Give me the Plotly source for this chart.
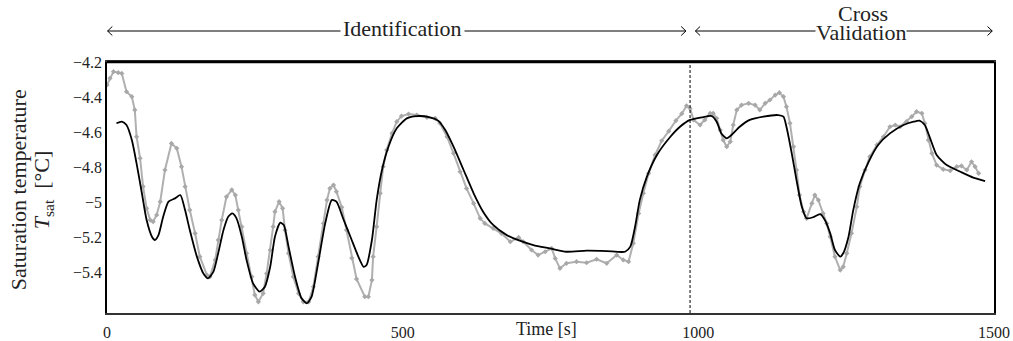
import plotly.graph_objects as go

# Measured saturation temperature (gray, with markers)
t_meas = [0, 5, 11, 19, 25, 33, 42, 47, 50, 56, 61, 67, 73, 78, 84, 90, 98, 109, 118, 126,
          132, 140, 149, 157, 169, 174, 183, 188, 194, 202, 211, 217, 222, 228, 236, 245, 250, 256, 264, 270,
          276, 281, 284, 291, 297, 301, 307, 315, 324, 332, 341, 349, 357, 366, 372, 377, 383, 388, 397, 405,
          414, 422, 436, 442, 448, 450, 456, 462, 467, 473, 482, 490, 498, 510, 524, 541, 555, 563, 575, 586,
          597, 608, 620, 631, 639, 653, 667, 682, 696, 704, 718, 729, 741, 752, 758, 766, 777, 794, 811, 828,
          845, 862, 873, 882, 890, 899, 907, 916, 927, 938, 950, 962, 972, 980, 986, 992, 1003, 1011, 1020, 1025,
          1031, 1037, 1042, 1048, 1054, 1059, 1065, 1073, 1085, 1096, 1104, 1113, 1121, 1130, 1137, 1144, 1149, 1155, 1161, 1166,
          1171, 1178, 1183, 1192, 1197, 1203, 1211, 1217, 1223, 1231, 1240, 1245, 1251, 1259, 1268, 1273, 1282, 1290, 1302, 1313,
          1324, 1333, 1341, 1352, 1361, 1369, 1378, 1383, 1389, 1395, 1403, 1414, 1426, 1437, 1445, 1454, 1462, 1468, 1474]
T_meas = [-4.331, -4.293, -4.255, -4.261, -4.265, -4.37, -4.398, -4.474, -4.627, -4.75, -4.912, -5.036, -5.103, -5.112, -5.074, -4.998, -4.817, -4.665, -4.693, -4.798,
          -4.912, -5.046, -5.179, -5.312, -5.417, -5.427, -5.331, -5.217, -5.103, -4.97, -4.931, -4.96, -5.046, -5.141, -5.293, -5.427, -5.531, -5.57, -5.522, -5.408,
          -5.274, -5.141, -5.055, -4.998, -5.036, -5.16, -5.293, -5.427, -5.522, -5.57, -5.57, -5.484, -5.312, -5.122, -4.989, -4.922, -4.903, -4.941, -5.03, -5.16,
          -5.32, -5.44, -5.541, -5.541, -5.446, -5.312, -5.141, -4.95, -4.798, -4.703, -4.607, -4.541, -4.509, -4.497, -4.503, -4.516, -4.522, -4.55, -4.627, -4.722,
          -4.827, -4.922, -5.008, -5.093, -5.122, -5.15, -5.179, -5.227, -5.202, -5.227, -5.274, -5.303, -5.284, -5.265, -5.322, -5.379, -5.35, -5.341, -5.347, -5.327,
          -5.35, -5.303, -5.331, -5.341, -5.236, -5.065, -4.95, -4.836, -4.731, -4.65, -4.595, -4.535, -4.495, -4.45, -4.465, -4.531, -4.56, -4.531, -4.493, -4.493,
          -4.522, -4.589, -4.646, -4.684, -4.655, -4.56, -4.474, -4.446, -4.436, -4.446, -4.474, -4.436, -4.417, -4.389, -4.375, -4.398, -4.455, -4.55, -4.684, -4.817,
          -4.96, -5.055, -5.093, -5.008, -4.96, -4.989, -5.065, -5.122, -5.198, -5.312, -5.389, -5.37, -5.293, -5.179, -5.027, -4.912, -4.817, -4.741, -4.674, -4.627,
          -4.57, -4.56, -4.57, -4.541, -4.512, -4.484, -4.493, -4.55, -4.646, -4.722, -4.789, -4.813, -4.821, -4.798, -4.794, -4.817, -4.77, -4.798, -4.836]

# Model output (black)
t_model = [16, 25, 33, 42, 50, 59, 67, 76, 81, 87, 95, 104, 115, 124, 132, 140, 152, 163, 171, 180,
           188, 197, 205, 212, 219, 228, 236, 247, 258, 267, 276, 284, 293, 299, 307, 318, 329, 338, 346, 357,
           369, 380, 388, 400, 413, 425, 434, 439, 448, 456, 465, 476, 490, 507, 524, 546, 560, 572, 586, 603,
           620, 636, 653, 676, 698, 721, 749, 777, 811, 845, 876, 885, 893, 901, 913, 930, 952, 969, 986, 1006,
           1023, 1031, 1039, 1048, 1056, 1070, 1087, 1110, 1135, 1144, 1149, 1158, 1166, 1175, 1183, 1194, 1206, 1214, 1223, 1231,
           1240, 1245, 1254, 1262, 1273, 1288, 1304, 1324, 1347, 1364, 1374, 1383, 1392, 1403, 1420, 1443, 1465, 1485]
T_model = [-4.55, -4.541, -4.56, -4.646, -4.779, -4.95, -5.103, -5.198, -5.217, -5.189, -5.084, -4.998, -4.979, -4.96, -5.046, -5.16, -5.312, -5.408, -5.436, -5.398,
           -5.293, -5.16, -5.084, -5.065, -5.093, -5.198, -5.331, -5.465, -5.512, -5.484, -5.37, -5.198, -5.118, -5.131, -5.255, -5.427, -5.55, -5.579, -5.541, -5.35,
           -5.122, -4.989, -4.998, -5.1, -5.21, -5.312, -5.37, -5.36, -5.217, -4.989, -4.817, -4.684, -4.579, -4.522, -4.509, -4.516, -4.535, -4.589, -4.684, -4.817,
           -4.95, -5.055, -5.131, -5.189, -5.221, -5.246, -5.265, -5.284, -5.278, -5.28, -5.284, -5.255, -5.141, -4.989, -4.855, -4.731, -4.63, -4.57, -4.531, -4.516,
           -4.509, -4.541, -4.608, -4.636, -4.617, -4.57, -4.531, -4.512, -4.503, -4.512, -4.57, -4.722, -4.874, -5.027, -5.093, -5.087, -5.069, -5.103, -5.179, -5.274,
           -5.312, -5.293, -5.198, -5.046, -4.893, -4.77, -4.674, -4.608, -4.56, -4.541, -4.535, -4.56, -4.636, -4.731, -4.789, -4.827, -4.861, -4.88]

x_ticks = [0, 500, 1000, 1500]
y_ticks = [-4.2, -4.4, -4.6, -4.8, -5.0, -5.2, -5.4]
y_ticktext = ["\u22124.2", "\u22124.4", "\u22124.6", "\u22124.8", "\u22125", "\u22125.2", "\u22125.4"]

split_time = 986
x_range = [0, 1500]
y_range = [-5.634, -4.2]

FONT = "Liberation Serif"
TXT = "#222"

fig = go.Figure()
fig.add_trace(go.Scatter(
    x=t_meas, y=T_meas, mode="lines+markers",
    line=dict(color="#b0b0b0", width=2),
    marker=dict(symbol="diamond", size=4, color="#a8a8a8"),
    showlegend=False, hoverinfo="skip"))
fig.add_trace(go.Scatter(
    x=t_model, y=T_model, mode="lines",
    line=dict(color="black", width=1.8, shape="spline", smoothing=0.6),
    showlegend=False, hoverinfo="skip"))

# vertical dashed separator
fig.add_shape(type="line", xref="x", yref="paper", x0=split_time, x1=split_time, y0=0, y1=1,
              line=dict(color="black", width=1, dash="3px,2px"))
# thick top border
fig.add_shape(type="line", xref="paper", yref="paper", x0=0, x1=1, y0=1, y1=1,
              line=dict(color="black", width=2.5))

# double-headed arrows above plot
arrow_y = 1.1235
def chevrons(x0, x1):
    dx = 8
    dy = 0.018
    fig.add_shape(type="line", xref="x", yref="paper", x0=x0, x1=x1, y0=arrow_y, y1=arrow_y,
                  line=dict(color="black", width=1))
    fig.add_shape(type="path", xref="x", yref="paper",
                  path=f"M {x0+dx},{arrow_y+dy} L {x0},{arrow_y} L {x0+dx},{arrow_y-dy}",
                  line=dict(color="black", width=1))
    fig.add_shape(type="path", xref="x", yref="paper",
                  path=f"M {x1-dx},{arrow_y+dy} L {x1},{arrow_y} L {x1-dx},{arrow_y-dy}",
                  line=dict(color="black", width=1))

chevrons(1, 979)
chevrons(995, 1497)

fig.add_annotation(x=499, y=arrow_y + 0.01, xref="x", yref="paper", text="Identification",
                   showarrow=False, bgcolor="white", borderpad=2,
                   font=dict(family=FONT, size=22, color=TXT), yanchor="middle")
fig.add_annotation(x=1275, y=arrow_y - 0.004, xref="x", yref="paper", text="Validation",
                   showarrow=False, bgcolor="white", borderpad=0,
                   font=dict(family=FONT, size=22, color=TXT), yanchor="middle")
fig.add_annotation(x=1278, y=1.194, xref="x", yref="paper", text="Cross",
                   showarrow=False,
                   font=dict(family=FONT, size=22, color=TXT), yanchor="middle")
fig.add_annotation(x=744, y=-0.064, xref="x", yref="paper", text="Time [s]",
                   showarrow=False, font=dict(family=FONT, size=18, color=TXT), yanchor="middle")

# y-axis title (two lines, rotated)
fig.add_annotation(x=-0.1, y=0.49, xref="paper", yref="paper", text="Saturation temperature",
                   showarrow=False, textangle=-90, xanchor="center", yanchor="middle",
                   font=dict(family=FONT, size=22, color=TXT))
fig.add_annotation(x=-0.072, y=0.49, xref="paper", yref="paper",
                   text="<i>T</i><sub>sat</sub>  [°C]",
                   showarrow=False, textangle=-90, xanchor="center", yanchor="middle",
                   font=dict(family=FONT, size=22, color=TXT))

fig.update_layout(
    width=1013, height=341, autosize=False,
    margin=dict(l=107, r=19, t=62, b=28),
    paper_bgcolor="white", plot_bgcolor="white",
    font=dict(family=FONT, color=TXT),
    xaxis=dict(range=x_range, tickvals=x_ticks, ticks="", showgrid=False, zeroline=False,
               showline=True, linecolor="#333", linewidth=1.5, mirror=True,
               ticklabelstandoff=4, automargin=False,
               tickfont=dict(family=FONT, size=16, color=TXT)),
    yaxis=dict(range=y_range, tickvals=y_ticks, ticktext=y_ticktext, ticks="", showgrid=False,
               zeroline=False, showline=True, linecolor="black", linewidth=1.5, mirror=True,
               automargin=False,
               tickfont=dict(family=FONT, size=16, color=TXT)),
)
fig.write_html("out.html", config={"displayModeBar": False},
               post_script="document.body.style.margin='0';")
